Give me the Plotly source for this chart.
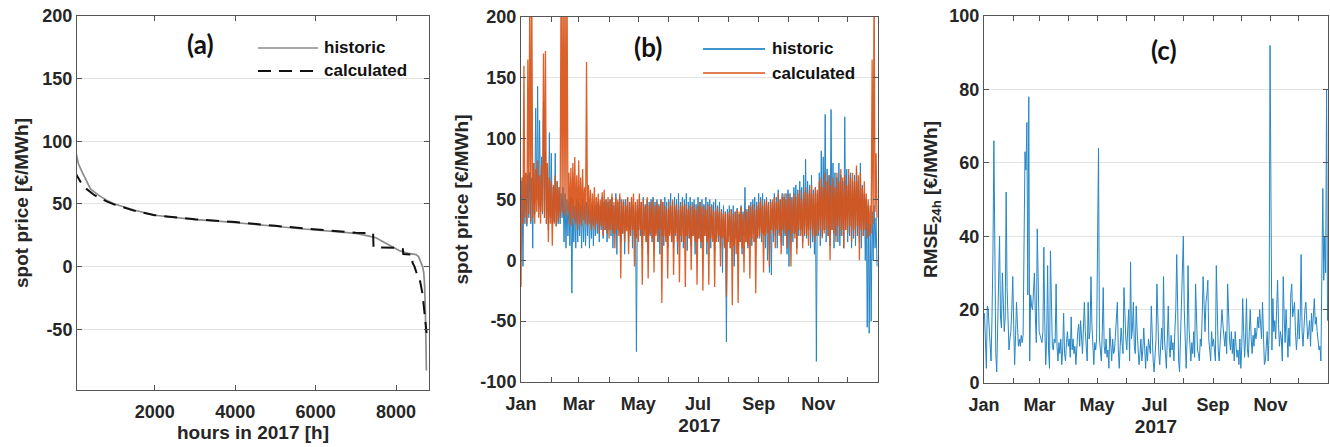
import plotly.graph_objects as go
import pandas as pd

# ---------------- DATA ----------------
# (a) price duration curves (sorted hourly prices)
hist_hours = [0, 50, 100, 200, 300, 400, 600, 800, 1000, 1500, 2000, 2500, 3000, 3500, 4000,
              4500, 5000, 5500, 6000, 6500, 7000, 7300, 7500, 7700, 7900, 8100, 8300, 8500,
              8560, 8620, 8660, 8690, 8710, 8730, 8745, 8755]
hist_sorted = [97, 88, 82, 75, 68, 62, 57, 53, 50, 45, 41, 39, 37.5, 36.5, 35.2,
               33.8, 32.2, 30.6, 29.2, 28, 26.5, 24.5, 23, 19.5, 16, 12.5, 10.5, 9.5,
               8, 4, 0, -5, -15, -35, -60, -83]
calc_hours = [0, 100, 200, 300, 500, 800, 1000, 1500, 2000, 3000, 4000, 5000, 6000, 7000,
              7430, 7440, 8000, 8170, 8180, 8400, 8410, 8460, 8500, 8600, 8660, 8720, 8760]
calc_sorted = [76, 70, 65, 62, 57, 52, 49.5, 44.5, 41, 37.8, 35.5, 32.5, 29.5, 27,
               26.5, 15.5, 15, 14, 10, 9.5, 3, 0, -4, -12, -22, -40, -53]

# (b) hourly spot price 2017, read as alternating daily lows / highs
hist_jan = [35,65,-5,70,30,62,28,70,35,72,30,68,10,80,38,125,50,143,45,115,40,85,38,130,35,90,30,75,25,105,35]
hist_feb = [88,30,60,32,88,28,65,30,60,30,55,35,60,15,55,10,50,20,48,12,52,-27,50,15,45,10,50,15]
hist_mar = [48,20,45,10,50,15,45,12,48,20,45,10,42,18,45,12,42,20,45,22,48,15,45,25,52,18,48,25,50,15,48]
hist_apr = [25,50,20,52,10,45,22,55,5,48,25,52,15,50,22,48,5,50,25,52,15,48,20,50,10,45,20,48,-75,45]
hist_may = [25,50,20,48,10,52,25,46,15,50,5,48,20,50,15,52,10,48,22,50,15,46,5,50,20,48,12,52,20,48,10]
hist_jun = [50,22,55,15,48,10,52,20,50,5,55,18,48,15,52,10,50,20,55,8,48,18,52,12,48,20,50,5,46,15]
hist_jul = [52,18,48,10,50,15,46,20,52,5,48,18,50,10,46,20,48,8,50,18,45,15,48,10,42,-10,45,12,40,-67,42]
hist_aug = [20,45,10,42,15,45,-5,40,18,43,10,38,15,45,5,40,20,60,15,42,10,45,20,48,12,50,22,52,15,48,18]
hist_sep = [55,20,52,15,55,20,50,10,52,0,48,-10,50,-12,48,15,55,20,52,10,58,22,50,15,55,12,52,20,55,5]
hist_oct = [58,-5,55,20,52,15,60,22,62,10,58,20,65,25,60,15,70,20,83,18,65,25,62,10,70,15,58,5,60,-83,55]
hist_nov = [20,72,12,90,20,85,25,120,15,75,20,70,12,124,25,80,10,72,20,68,15,80,12,70,20,65,10,118,25,75]
hist_dec = [15,70,20,72,10,65,18,70,12,75,20,65,15,80,10,62,20,55,0,50,-55,45,-60,30,-50,40,0,45,10,35,-5]

calc_jan = [-22,68,30,160,35,72,30,165,38,230,32,230,35,80,30,75,40,82,35,70,30,78,40,170,35,172,30,80,15,68,30]
calc_feb = [65,12,62,30,70,28,65,32,60,35,240,40,240,38,240,36,240,40,72,30,76,28,80,34,85,30,70,25]
calc_mar = [82,30,68,28,75,33,60,30,163,28,62,30,58,25,55,28,60,25,52,30,55,22,50,28,56,20,58,25,50,22,52]
calc_apr = [18,50,25,55,22,48,10,52,25,50,20,55,-15,48,22,50,15,45,24,52,5,48,20,52,25,55,-5,48,18,50]
calc_may = [15,55,25,48,-20,50,20,45,15,52,-15,45,22,48,18,50,-10,45,20,48,15,45,25,50,-35,48,20,45,15,42,-15]
calc_jun = [48,20,45,15,50,-12,45,22,47,15,42,-18,45,20,48,15,45,-22,46,20,42,18,45,-8,44,20,46,15,42,-20]
calc_jul = [45,18,48,15,44,-25,45,20,42,15,46,-20,44,18,45,15,40,-22,42,15,44,20,40,-5,42,18,38,10,40,-30,38]
calc_aug = [15,40,10,42,-37,38,12,40,5,42,-35,40,15,44,10,38,-10,42,15,40,12,45,-15,44,18,46,15,42,-27,45,20]
calc_sep = [48,18,50,22,45,-10,48,20,50,22,46,-5,48,25,50,22,52,10,48,25,55,20,50,5,52,25,55,22,50,10]
calc_oct = [55,25,52,-5,50,22,55,18,52,5,55,25,58,20,50,10,56,22,60,20,55,12,58,25,62,20,55,15,60,20,58]
calc_nov = [22,65,25,68,18,60,22,72,25,65,20,70,0,62,25,68,22,60,15,72,28,65,20,75,25,68,10,70,25,62]
calc_dec = [22,75,28,68,15,72,25,65,20,78,28,70,0,72,25,60,20,65,25,55,18,50,20,45,22,165,30,230,40,88,35]

# (c) daily RMSE over 24 h
rmse_jan = [19,12,4,21,20,15,10,6,18,35,66,25,8,3,14,22,40,18,15,30,22,14,18,52,26,16,9,12,14,20,29]
rmse_feb = [16,5,13,22,16,10,12,10,13,11,13,35,63,58,71,24,78,6,24,21,20,25,30,18,11,42,26,14]
rmse_mar = [13,12,11,14,37,16,5,12,32,9,4,36,15,10,9,12,11,27,10,6,11,8,12,5,9,19,8,6,11,14,10]
rmse_apr = [12,7,18,9,12,8,10,5,11,14,16,10,17,12,8,15,22,14,9,6,22,12,14,29,16,8,5,11,9,12]
rmse_may = [40,64,12,8,6,14,26,10,8,12,7,9,4,15,10,6,12,8,9,14,18,22,9,4,10,15,11,8,26,18,12]
rmse_jun = [9,14,20,6,33,12,15,22,10,8,21,14,10,5,8,12,6,9,15,8,4,10,6,12,9,8,21,10,6,3]
rmse_jul = [8,12,27,14,8,5,10,15,9,29,12,8,4,12,21,10,7,13,9,11,6,14,20,35,18,6,3,12,18,25,40]
rmse_aug = [20,8,4,12,32,15,9,6,11,8,14,7,27,16,9,8,6,12,10,18,29,22,14,22,24,28,12,9,6,14,10]
rmse_sep = [12,8,6,32,18,9,6,10,14,20,16,12,10,14,8,27,18,12,9,14,8,12,6,14,10,7,9,5,12,4]
rmse_oct = [10,23,14,7,12,23,9,7,14,20,12,8,13,10,15,12,14,18,15,20,16,12,22,14,5,6,9,14,6,13,92]
rmse_nov = [40,9,23,14,17,12,20,28,16,10,14,12,6,29,18,11,20,12,7,15,10,24,27,18,21,22,14,9,13,20]
rmse_dec = [12,18,35,14,10,16,20,22,18,12,14,17,10,19,14,21,23,16,18,14,12,9,10,6,30,53,28,40,30,80,17]

major_months = ["2017-01-01", "2017-03-01", "2017-05-01", "2017-07-01", "2017-09-01", "2017-11-01"]
major_labels = ["Jan", "Mar", "May", "Jul", "Sep", "Nov"]
all_months = ["2017-%02d-01" % m for m in range(1, 13)]

ya_ticks = [-50, 0, 50, 100, 150, 200]
yb_ticks = [-100, -50, 0, 50, 100, 150, 200]
yc_ticks = [0, 20, 40, 60, 80, 100]
xa_ticks = [2000, 4000, 6000, 8000]

hist_b = hist_jan + hist_feb + hist_mar + hist_apr + hist_may + hist_jun + hist_jul + hist_aug + hist_sep + hist_oct + hist_nov + hist_dec
calc_b = calc_jan + calc_feb + calc_mar + calc_apr + calc_may + calc_jun + calc_jul + calc_aug + calc_sep + calc_oct + calc_nov + calc_dec
rmse_c = rmse_jan + rmse_feb + rmse_mar + rmse_apr + rmse_may + rmse_jun + rmse_jul + rmse_aug + rmse_sep + rmse_oct + rmse_nov + rmse_dec

days_h = pd.date_range("2017-01-01", periods=len(hist_b), freq="D")
days_c = pd.date_range("2017-01-01", periods=len(calc_b), freq="D")
days_r = pd.date_range("2017-01-01 12:00", periods=len(rmse_c), freq="D")

# ---------------- FIGURE ----------------
W, H = 1330, 447
def fx(px):
    return px / W
def fy(py):
    return 1 - py / H

BLUE = "#0072BD"
ORANGE = "#D95319"
TXT = "#262626"
AX = "#555555"
GRID = "#e3e3e3"
FONT = "Liberation Sans"

fig = go.Figure()
fig.add_trace(go.Scatter(x=hist_hours, y=hist_sorted, mode="lines", name="historic",
                         line=dict(color="#8c8c8c", width=1.7), xaxis="x", yaxis="y", showlegend=False))
fig.add_trace(go.Scatter(x=calc_hours, y=calc_sorted, mode="lines", name="calculated",
                         line=dict(color="#111111", width=2, dash="13px,8px"), xaxis="x", yaxis="y", showlegend=False))
fig.add_trace(go.Scatter(x=days_h, y=hist_b, mode="lines", name="historic",
                         line=dict(color=BLUE, width=1), opacity=0.85, xaxis="x2", yaxis="y2", showlegend=False))
fig.add_trace(go.Scatter(x=days_c, y=calc_b, mode="lines", name="calculated",
                         line=dict(color=ORANGE, width=1.3), opacity=0.92, xaxis="x2", yaxis="y2", showlegend=False))
fig.add_trace(go.Scatter(x=days_r, y=rmse_c, mode="lines", name="RMSE",
                         line=dict(color=BLUE, width=1), opacity=0.85, xaxis="x3", yaxis="y3", showlegend=False))

tickfont = dict(family=FONT, size=18, color=TXT, weight="bold")
titlefont = dict(family=FONT, size=19, color=TXT, weight="bold")

def xax(domain, anchor, **kw):
    d = dict(domain=domain, anchor=anchor, showline=True, linecolor=AX, linewidth=1, mirror="ticks",
             ticks="inside", ticklen=5, tickcolor=AX, showgrid=False, zeroline=False, automargin=False,
             tickfont=tickfont, ticklabelstandoff=5)
    d.update(kw)
    return d

def yax(domain, anchor, **kw):
    d = dict(domain=domain, anchor=anchor, showline=True, linecolor=AX, linewidth=1, mirror="ticks",
             ticks="inside", ticklen=5, tickcolor=AX, showgrid=True, gridcolor=GRID, gridwidth=1,
             zeroline=False, automargin=False, tickfont=tickfont)
    d.update(kw)
    return d

minor_months = dict(tickvals=all_months, ticks="inside", ticklen=5, tickcolor=AX, showgrid=False)

layout_axes = dict(
    xaxis=xax([fx(77), fx(429)], "y", range=[65, 8820], tickvals=xa_ticks, ticktext=[str(v) for v in xa_ticks],
              title=dict(text="hours in 2017 [h]", font=titlefont, standoff=4)),
    yaxis=yax([fy(390), fy(16)], "x", range=[-98.5, 200], tickvals=ya_ticks, ticktext=[str(v) for v in ya_ticks],
              title=dict(text="spot price [€/MWh]", font=titlefont, standoff=8)),
    xaxis2=xax([fx(521), fx(878)], "y2", type="date", range=["2017-01-01", "2018-01-01"],
               tickvals=major_months, ticktext=major_labels, minor=minor_months,
               title=dict(text="2017", font=titlefont, standoff=6)),
    yaxis2=yax([fy(382), fy(17)], "x2", range=[-100, 200], tickvals=yb_ticks, ticktext=[str(v) for v in yb_ticks],
               title=dict(text="spot price [€/MWh]", font=titlefont, standoff=6)),
    xaxis3=xax([fx(984), fx(1328)], "y3", type="date", range=["2017-01-01", "2018-01-01"],
               tickvals=major_months, ticktext=major_labels, minor=minor_months,
               title=dict(text="2017", font=titlefont, standoff=6)),
    yaxis3=yax([fy(383), fy(16)], "x3", range=[0, 100], tickvals=yc_ticks, ticktext=[str(v) for v in yc_ticks],
               title=dict(text="RMSE<sub>24h</sub> [€/MWh]", font=titlefont, standoff=6)),
)

shapes = [
    dict(type="line", xref="paper", yref="paper", x0=fx(258), x1=fx(318), y0=fy(48), y1=fy(48),
         line=dict(color="#8c8c8c", width=1.7)),
    dict(type="line", xref="paper", yref="paper", x0=fx(258), x1=fx(318), y0=fy(71), y1=fy(71),
         line=dict(color="#111111", width=2, dash="13px,8px")),
    dict(type="line", xref="paper", yref="paper", x0=fx(703), x1=fx(765), y0=fy(49), y1=fy(49),
         line=dict(color=BLUE, width=1.3)),
    dict(type="line", xref="paper", yref="paper", x0=fx(703), x1=fx(765), y0=fy(73), y1=fy(73),
         line=dict(color=ORANGE, width=1.3)),
]

legfont = dict(family=FONT, size=17, color="#111111", weight="bold")
labfont = dict(family="Lato", size=26, color="#111111", weight="bold")
annotations = [
    dict(text="historic", x=fx(322), y=fy(48), xref="paper", yref="paper", xanchor="left", yanchor="middle",
         showarrow=False, font=legfont),
    dict(text="calculated", x=fx(322), y=fy(71), xref="paper", yref="paper", xanchor="left", yanchor="middle",
         showarrow=False, font=legfont),
    dict(text="historic", x=fx(770), y=fy(49), xref="paper", yref="paper", xanchor="left", yanchor="middle",
         showarrow=False, font=legfont),
    dict(text="calculated", x=fx(770), y=fy(73), xref="paper", yref="paper", xanchor="left", yanchor="middle",
         showarrow=False, font=legfont),
    dict(text="(a)", x=fx(200), y=fy(44), xref="paper", yref="paper", xanchor="center", yanchor="middle",
         showarrow=False, font=labfont),
    dict(text="(b)", x=fx(648), y=fy(47), xref="paper", yref="paper", xanchor="center", yanchor="middle",
         showarrow=False, font=labfont),
    dict(text="(c)", x=fx(1164), y=fy(50), xref="paper", yref="paper", xanchor="center", yanchor="middle",
         showarrow=False, font=labfont),
]

fig.update_layout(
    width=W, height=H, margin=dict(l=0, r=0, t=0, b=0, autoexpand=False),
    paper_bgcolor="white", plot_bgcolor="white",
    showlegend=False, shapes=shapes, annotations=annotations,
    **layout_axes,
)

fig.write_html("out.html", config={"displayModeBar": False},
               post_script="document.body.style.margin='0px';document.body.style.overflow='hidden';")
